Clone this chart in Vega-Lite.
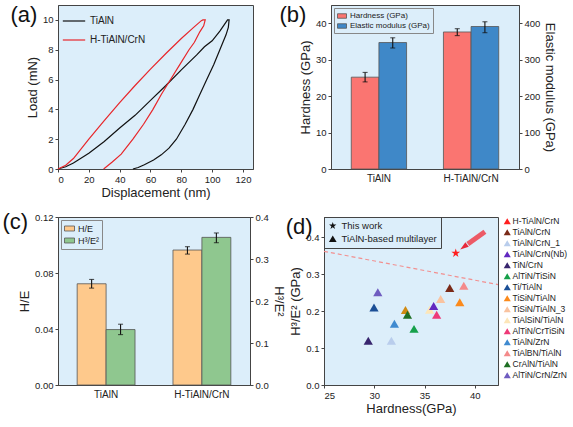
{
  "$schema": "https://vega.github.io/schema/vega-lite/v6.json",
  "padding": {"left": 2, "top": 3, "right": 0, "bottom": 0},
  "background": "white",
  "resolve": {"scale": {"color": "independent", "shape": "independent", "xOffset": "independent"}},
  "spacing": 10,
  "vconcat": [
    {
      "spacing": 24,
      "resolve": {"scale": {"color": "independent", "shape": "independent", "xOffset": "independent"}},
      "hconcat": [
        {
          "width": 195,
          "height": 164,
          "title": {"text": "(a)", "dx": -16, "offset": -22},
          "data": {"values": [
            {"s": "TiAlN", "i": 1, "d": 0, "L": 0},
            {"s": "TiAlN", "i": 2, "d": 5, "L": 0.15},
            {"s": "TiAlN", "i": 3, "d": 10, "L": 0.4},
            {"s": "TiAlN", "i": 4, "d": 20, "L": 1.05},
            {"s": "TiAlN", "i": 5, "d": 30, "L": 1.85},
            {"s": "TiAlN", "i": 6, "d": 40, "L": 2.75},
            {"s": "TiAlN", "i": 7, "d": 50, "L": 3.6},
            {"s": "TiAlN", "i": 8, "d": 60, "L": 4.6},
            {"s": "TiAlN", "i": 9, "d": 70, "L": 5.6},
            {"s": "TiAlN", "i": 10, "d": 80, "L": 6.65},
            {"s": "TiAlN", "i": 11, "d": 90, "L": 7.65},
            {"s": "TiAlN", "i": 12, "d": 95, "L": 8.2},
            {"s": "TiAlN", "i": 13, "d": 100, "L": 8.6},
            {"s": "TiAlN", "i": 14, "d": 105, "L": 9.25},
            {"s": "TiAlN", "i": 15, "d": 109, "L": 9.85},
            {"s": "TiAlN", "i": 16, "d": 110, "L": 10},
            {"s": "TiAlN", "i": 17, "d": 111, "L": 10},
            {"s": "TiAlN", "i": 18, "d": 110.5, "L": 9.5},
            {"s": "TiAlN", "i": 19, "d": 109, "L": 9},
            {"s": "TiAlN", "i": 20, "d": 107, "L": 8.5},
            {"s": "TiAlN", "i": 21, "d": 105, "L": 8},
            {"s": "TiAlN", "i": 22, "d": 101, "L": 7},
            {"s": "TiAlN", "i": 23, "d": 96.5, "L": 6},
            {"s": "TiAlN", "i": 24, "d": 92, "L": 5},
            {"s": "TiAlN", "i": 25, "d": 87.6, "L": 4},
            {"s": "TiAlN", "i": 26, "d": 82.5, "L": 3},
            {"s": "TiAlN", "i": 27, "d": 76.8, "L": 2},
            {"s": "TiAlN", "i": 28, "d": 72, "L": 1.4},
            {"s": "TiAlN", "i": 29, "d": 67, "L": 0.95},
            {"s": "TiAlN", "i": 30, "d": 62, "L": 0.6},
            {"s": "TiAlN", "i": 31, "d": 56, "L": 0.28},
            {"s": "TiAlN", "i": 32, "d": 52, "L": 0.1},
            {"s": "TiAlN", "i": 33, "d": 48.6, "L": 0},
            {"s": "H-TiAlN/CrN", "i": 1, "d": 0, "L": 0},
            {"s": "H-TiAlN/CrN", "i": 2, "d": 5, "L": 0.25},
            {"s": "H-TiAlN/CrN", "i": 3, "d": 10, "L": 0.7},
            {"s": "H-TiAlN/CrN", "i": 4, "d": 20, "L": 2.0},
            {"s": "H-TiAlN/CrN", "i": 5, "d": 30, "L": 3.25},
            {"s": "H-TiAlN/CrN", "i": 6, "d": 40, "L": 4.45},
            {"s": "H-TiAlN/CrN", "i": 7, "d": 50, "L": 5.6},
            {"s": "H-TiAlN/CrN", "i": 8, "d": 60, "L": 6.7},
            {"s": "H-TiAlN/CrN", "i": 9, "d": 70, "L": 7.75},
            {"s": "H-TiAlN/CrN", "i": 10, "d": 80, "L": 8.75},
            {"s": "H-TiAlN/CrN", "i": 11, "d": 88, "L": 9.5},
            {"s": "H-TiAlN/CrN", "i": 12, "d": 93, "L": 9.95},
            {"s": "H-TiAlN/CrN", "i": 13, "d": 94, "L": 10},
            {"s": "H-TiAlN/CrN", "i": 14, "d": 95.5, "L": 10},
            {"s": "H-TiAlN/CrN", "i": 15, "d": 94.5, "L": 9.6},
            {"s": "H-TiAlN/CrN", "i": 16, "d": 92, "L": 9.2},
            {"s": "H-TiAlN/CrN", "i": 17, "d": 88.5, "L": 8.5},
            {"s": "H-TiAlN/CrN", "i": 18, "d": 85, "L": 8},
            {"s": "H-TiAlN/CrN", "i": 19, "d": 79, "L": 7},
            {"s": "H-TiAlN/CrN", "i": 20, "d": 73, "L": 6},
            {"s": "H-TiAlN/CrN", "i": 21, "d": 67, "L": 5},
            {"s": "H-TiAlN/CrN", "i": 22, "d": 61.6, "L": 4},
            {"s": "H-TiAlN/CrN", "i": 23, "d": 55.5, "L": 3},
            {"s": "H-TiAlN/CrN", "i": 24, "d": 48.6, "L": 2},
            {"s": "H-TiAlN/CrN", "i": 25, "d": 41, "L": 1},
            {"s": "H-TiAlN/CrN", "i": 26, "d": 35, "L": 0.45},
            {"s": "H-TiAlN/CrN", "i": 27, "d": 29.6, "L": 0}
          ]},
          "mark": {"type": "line", "strokeWidth": 1.2},
          "encoding": {
            "x": {"field": "d", "type": "quantitative", "scale": {"domain": [0, 126.5], "nice": false}, "axis": {"title": "Displacement (nm)", "values": [0, 20, 40, 60, 80, 100, 120]}},
            "y": {"field": "L", "type": "quantitative", "scale": {"domain": [0, 11], "nice": false}, "axis": {"title": "Load (mN)", "values": [0, 2, 4, 6, 8, 10]}},
            "order": {"field": "i", "type": "quantitative"},
            "color": {"field": "s", "type": "nominal", "scale": {"domain": ["TiAlN", "H-TiAlN/CrN"], "range": ["#111111", "#e8262a"]},
              "legend": {"title": null, "orient": "top-left", "offset": 4, "symbolType": "stroke", "symbolSize": 500, "symbolStrokeWidth": 1.2, "labelFontSize": 10, "rowPadding": 2, "labelOffset": 4}}
          }
        },
        {
          "width": 188,
          "height": 164,
          "title": {"text": "(b)", "dx": -20, "offset": -22},
          "data": {"values": [
            {"sample": "TiAlN", "series": "Hardness (GPa)", "v": 25.2, "lo": 23.9, "hi": 26.5},
            {"sample": "H-TiAlN/CrN", "series": "Hardness (GPa)", "v": 37.6, "lo": 36.6, "hi": 38.5},
            {"sample": "TiAlN", "series": "Elastic modulus (GPa)", "v": 347, "lo": 332, "hi": 360},
            {"sample": "H-TiAlN/CrN", "series": "Elastic modulus (GPa)", "v": 391, "lo": 374, "hi": 404}
          ]},
          "encoding": {
            "x": {"field": "sample", "type": "nominal", "sort": ["TiAlN", "H-TiAlN/CrN"], "scale": {"paddingInner": 0.4, "paddingOuter": 0.22}, "axis": {"title": null, "labelAngle": 0, "ticks": false, "labelFontSize": 10, "labelPadding": 4}},
            "xOffset": {"field": "series", "type": "nominal", "sort": ["Hardness (GPa)", "Elastic modulus (GPa)"]},
            "color": {"field": "series", "type": "nominal", "scale": {"domain": ["Hardness (GPa)", "Elastic modulus (GPa)"], "range": ["#fa7571", "#3f88c8"]},
              "legend": {"title": null, "orient": "top-left", "offset": 3, "padding": 3, "strokeColor": "#888", "symbolType": "M-1,-0.5H1V0.5H-1Z", "symbolSize": 81, "symbolStrokeColor": "#555", "symbolStrokeWidth": 0.8, "labelFontSize": 8, "rowPadding": 1, "labelOffset": 3}}
          },
          "layer": [
            {
              "transform": [{"filter": "datum.series === 'Hardness (GPa)'"}],
              "layer": [
                {"mark": {"type": "bar", "stroke": "#555", "strokeWidth": 0.8},
                 "encoding": {"y": {"field": "v", "type": "quantitative", "title": "Hardness (GPa)", "scale": {"domain": [0, 45], "nice": false}, "axis": {"values": [0, 10, 20, 30, 40]}}}},
                {"mark": {"type": "rule", "strokeWidth": 1.1},
                 "encoding": {"y": {"field": "lo", "type": "quantitative", "title": "Hardness (GPa)"}, "y2": {"field": "hi"}, "color": {"value": "#111"}}},
                {"mark": {"type": "tick", "size": 5, "thickness": 1.1},
                 "encoding": {"y": {"field": "lo", "type": "quantitative", "title": "Hardness (GPa)"}, "color": {"value": "#111"}}},
                {"mark": {"type": "tick", "size": 5, "thickness": 1.1},
                 "encoding": {"y": {"field": "hi", "type": "quantitative", "title": "Hardness (GPa)"}, "color": {"value": "#111"}}}
              ]
            },
            {
              "transform": [{"filter": "datum.series === 'Elastic modulus (GPa)'"}],
              "layer": [
                {"mark": {"type": "bar", "stroke": "#555", "strokeWidth": 0.8},
                 "encoding": {"y": {"field": "v", "type": "quantitative", "title": "Elastic modulus (GPa)", "scale": {"domain": [0, 450], "nice": false}, "axis": {"orient": "right", "values": [0, 100, 200, 300, 400]}}}},
                {"mark": {"type": "rule", "strokeWidth": 1.1},
                 "encoding": {"y": {"field": "lo", "type": "quantitative", "title": "Elastic modulus (GPa)"}, "y2": {"field": "hi"}, "color": {"value": "#111"}}},
                {"mark": {"type": "tick", "size": 5, "thickness": 1.1},
                 "encoding": {"y": {"field": "lo", "type": "quantitative", "title": "Elastic modulus (GPa)"}, "color": {"value": "#111"}}},
                {"mark": {"type": "tick", "size": 5, "thickness": 1.1},
                 "encoding": {"y": {"field": "hi", "type": "quantitative", "title": "Elastic modulus (GPa)"}, "color": {"value": "#111"}}}
              ]
            }
          ],
          "resolve": {"scale": {"y": "independent"}}
        }
      ]
    },
    {
      "spacing": 0,
      "resolve": {"scale": {"color": "independent", "shape": "independent", "xOffset": "independent"}},
      "hconcat": [
        {
          "width": 192,
          "height": 168,
          "title": {"text": "(c)", "dx": -16, "offset": -22},
          "data": {"values": [
            {"sample": "TiAlN", "series": "H/E", "v": 0.0723, "lo": 0.0692, "hi": 0.0754},
            {"sample": "H-TiAlN/CrN", "series": "H/E", "v": 0.0964, "lo": 0.0935, "hi": 0.0988},
            {"sample": "TiAlN", "series": "H³/E²", "v": 0.132, "lo": 0.12, "hi": 0.1447},
            {"sample": "H-TiAlN/CrN", "series": "H³/E²", "v": 0.3515, "lo": 0.3388, "hi": 0.362}
          ]},
          "encoding": {
            "x": {"field": "sample", "type": "nominal", "sort": ["TiAlN", "H-TiAlN/CrN"], "scale": {"paddingInner": 0.396, "paddingOuter": 0.2}, "axis": {"title": null, "labelAngle": 0, "ticks": false, "labelFontSize": 10, "labelPadding": 4}},
            "xOffset": {"field": "series", "type": "nominal", "sort": ["H/E", "H³/E²"]},
            "color": {"field": "series", "type": "nominal", "scale": {"domain": ["H/E", "H³/E²"], "range": ["#fec98c", "#8fc78f"]},
              "legend": {"title": null, "orient": "top-left", "offset": 3, "padding": 3, "strokeColor": "#888", "symbolType": "M-1,-0.5H1V0.5H-1Z", "symbolSize": 100, "symbolStrokeColor": "#555", "symbolStrokeWidth": 0.8, "labelFontSize": 9, "rowPadding": 1, "labelOffset": 3}}
          },
          "layer": [
            {
              "transform": [{"filter": "datum.series === 'H/E'"}],
              "layer": [
                {"mark": {"type": "bar", "stroke": "#555", "strokeWidth": 0.8},
                 "encoding": {"y": {"field": "v", "type": "quantitative", "title": "H/E", "scale": {"domain": [0, 0.12], "nice": false}, "axis": {"values": [0, 0.02, 0.04, 0.06, 0.08, 0.1, 0.12], "format": ".2f"}}}},
                {"mark": {"type": "rule", "strokeWidth": 1.1},
                 "encoding": {"y": {"field": "lo", "type": "quantitative", "title": "H/E"}, "y2": {"field": "hi"}, "color": {"value": "#111"}}},
                {"mark": {"type": "tick", "size": 5, "thickness": 1.1},
                 "encoding": {"y": {"field": "lo", "type": "quantitative", "title": "H/E"}, "color": {"value": "#111"}}},
                {"mark": {"type": "tick", "size": 5, "thickness": 1.1},
                 "encoding": {"y": {"field": "hi", "type": "quantitative", "title": "H/E"}, "color": {"value": "#111"}}}
              ]
            },
            {
              "transform": [{"filter": "datum.series === 'H³/E²'"}],
              "layer": [
                {"mark": {"type": "bar", "stroke": "#555", "strokeWidth": 0.8},
                 "encoding": {"y": {"field": "v", "type": "quantitative", "title": "H³/E²", "scale": {"domain": [0, 0.4], "nice": false}, "axis": {"orient": "right", "values": [0, 0.1, 0.2, 0.3, 0.4], "format": ".1f"}}}},
                {"mark": {"type": "rule", "strokeWidth": 1.1},
                 "encoding": {"y": {"field": "lo", "type": "quantitative", "title": "H³/E²"}, "y2": {"field": "hi"}, "color": {"value": "#111"}}},
                {"mark": {"type": "tick", "size": 5, "thickness": 1.1},
                 "encoding": {"y": {"field": "lo", "type": "quantitative", "title": "H³/E²"}, "color": {"value": "#111"}}},
                {"mark": {"type": "tick", "size": 5, "thickness": 1.1},
                 "encoding": {"y": {"field": "hi", "type": "quantitative", "title": "H³/E²"}, "color": {"value": "#111"}}}
              ]
            }
          ],
          "resolve": {"scale": {"y": "independent"}}
        },
        {
          "width": 174,
          "height": 168,
          "title": {"text": "(d)", "dx": -4, "offset": -22},
          "data": {"values": [
            {"kind": "ref", "i": 1, "h": 25, "r": 0.362},
            {"kind": "ref", "i": 2, "h": 42.3, "r": 0.272},
            {"kind": "extra", "h": 33.1, "r": 0.203},
            {"kind": "pt", "m": "CrAlN/TiAlN", "h": 33.3, "r": 0.19, "g": "TiAlN-based multilayer"},
            {"kind": "pt", "m": "TiAlN/CrN", "h": 37.5, "r": 0.263, "g": "TiAlN-based multilayer"},
            {"kind": "pt", "m": "TiAlN/CrN_1", "h": 31.7, "r": 0.12, "g": "TiAlN-based multilayer"},
            {"kind": "pt", "m": "TiN/CrN", "h": 29.4, "r": 0.12, "g": "TiAlN-based multilayer"},
            {"kind": "pt", "m": "AlTiN/TiSiN", "h": 33.95, "r": 0.152, "g": "TiAlN-based multilayer"},
            {"kind": "pt", "m": "Ti/TiAlN", "h": 29.97, "r": 0.21, "g": "TiAlN-based multilayer"},
            {"kind": "pt", "m": "TiSiN/TiAlN", "h": 38.5, "r": 0.224, "g": "TiAlN-based multilayer"},
            {"kind": "pt", "m": "TiSiN/TiAlN_3", "h": 36.6, "r": 0.233, "g": "TiAlN-based multilayer"},
            {"kind": "pt", "m": "TiAlSiN/TiAlN", "h": 35.5, "r": 0.204, "g": "TiAlN-based multilayer"},
            {"kind": "pt", "m": "TiAlN/CrN(Nb)", "h": 35.9, "r": 0.214, "g": "TiAlN-based multilayer"},
            {"kind": "pt", "m": "AlTiN/CrTiSiN", "h": 36.2, "r": 0.19, "g": "TiAlN-based multilayer"},
            {"kind": "pt", "m": "TiAlN/ZrN", "h": 32.0, "r": 0.166, "g": "TiAlN-based multilayer"},
            {"kind": "pt", "m": "TiAlBN/TiAlN", "h": 38.9, "r": 0.269, "g": "TiAlN-based multilayer"},
            {"kind": "pt", "m": "AlTiN/CrN/ZrN", "h": 30.35, "r": 0.251, "g": "TiAlN-based multilayer"},
            {"kind": "pt", "m": "H-TiAlN/CrN", "h": 38.1, "r": 0.357, "g": "This work"},
            {"kind": "arrow", "i": 1, "h": 41.0, "r": 0.415},
            {"kind": "arrow", "i": 2, "h": 39.3, "r": 0.382},
            {"kind": "head", "h": 39.0, "r": 0.376}
          ]},
          "encoding": {
            "x": {"field": "h", "type": "quantitative", "title": "Hardness(GPa)", "scale": {"domain": [25, 42.3], "nice": false}, "axis": {"values": [25, 30, 35, 40]}},
            "y": {"field": "r", "type": "quantitative", "title": "H³/E² (GPa)", "scale": {"domain": [0, 0.455], "nice": false}, "axis": {"values": [0, 0.1, 0.2, 0.3, 0.4], "format": ".1f"}}
          },
          "layer": [
            {
              "transform": [{"filter": "datum.kind === 'ref'"}],
              "mark": {"type": "line", "color": "#f29090", "strokeDash": [4, 3], "strokeWidth": 1.2},
              "encoding": {"order": {"field": "i", "type": "quantitative"}}
            },
            {
              "transform": [{"filter": "datum.kind === 'extra'"}],
              "mark": {"type": "point", "shape": "triangle-up", "filled": true, "size": 85, "strokeWidth": 0, "color": "#d08a12", "opacity": 1},
              "encoding": {}
            },
            {
              "transform": [{"filter": "datum.kind === 'pt'"}],
              "mark": {"type": "point", "filled": true, "size": 85, "strokeWidth": 0, "opacity": 1},
              "encoding": {
                "color": {"field": "m", "type": "nominal",
                  "scale": {
                    "domain": ["H-TiAlN/CrN", "TiAlN/CrN", "TiAlN/CrN_1", "TiAlN/CrN(Nb)", "TiN/CrN", "AlTiN/TiSiN", "Ti/TiAlN", "TiSiN/TiAlN", "TiSiN/TiAlN_3", "TiAlSiN/TiAlN", "AlTiN/CrTiSiN", "TiAlN/ZrN", "TiAlBN/TiAlN", "CrAlN/TiAlN", "AlTiN/CrN/ZrN"],
                    "range": ["#ff1f1f", "#7a2a18", "#b9cdec", "#6128c0", "#38266e", "#16a04a", "#1b4f96", "#fb8a1c", "#f9c3a0", "#fde6b8", "#ee3a78", "#3f8ad0", "#f48a8a", "#1f6f24", "#6f5cc0"]
                  },
                  "legend": {"title": null, "orient": "right", "offset": 5, "labelFontSize": 8.5, "rowPadding": 2, "labelOffset": 1, "symbolSize": 50, "symbolType": "triangle-up", "symbolStrokeWidth": 0,
                    "encode": {
                      "symbols": {"update": {"shape": {"signal": "datum.value === 'H-TiAlN/CrN' ? 'M0,-1L0.225,-0.309L0.951,-0.309L0.363,0.118L0.588,0.809L0,0.382L-0.588,0.809L-0.363,0.118L-0.951,-0.309L-0.225,-0.309Z' : 'triangle-up'"}}},
                      "labels": {"update": {"fill": {"signal": "datum.value === 'H-TiAlN/CrN' ? '#ff1f1f' : '#222'"}, "fontSize": {"signal": "datum.value === 'H-TiAlN/CrN' ? 10.5 : 8.5"}}}
                    }
                  }
                },
                "shape": {"field": "g", "type": "nominal",
                  "scale": {"domain": ["This work", "TiAlN-based multilayer"], "range": ["M0,-1L0.225,-0.309L0.951,-0.309L0.363,0.118L0.588,0.809L0,0.382L-0.588,0.809L-0.363,0.118L-0.951,-0.309L-0.225,-0.309Z", "triangle-up"]},
                  "legend": {"title": null, "orient": "top-left", "offset": 0, "padding": 4, "strokeColor": "#444", "labelFontSize": 9.5, "rowPadding": 2, "labelOffset": 4, "symbolSize": 60, "symbolStrokeWidth": 0, "symbolFillColor": "#111",
                    "encode": {
                      "symbols": {"update": {"fill": {"signal": "datum.value === 'This work' ? '#ff1f1f' : '#111'"}}},
                      "labels": {"update": {"fill": {"signal": "datum.value === 'This work' ? '#ff1f1f' : '#111'"}}}
                    }
                  }
                }
              }
            },
            {
              "transform": [{"filter": "datum.kind === 'arrow'"}],
              "mark": {"type": "line", "color": "#ec5a66", "strokeWidth": 5, "strokeCap": "butt"},
              "encoding": {"order": {"field": "i", "type": "quantitative"}}
            },
            {
              "transform": [{"filter": "datum.kind === 'head'"}],
              "mark": {"type": "point", "shape": "M-0.8,0.6L0.7,0.1L0.1,-0.7Z", "filled": true, "size": 130, "color": "#e8283a", "strokeWidth": 0, "opacity": 1},
              "encoding": {}
            }
          ]
        }
      ]
    }
  ],
  "config": {
    "font": "Liberation Sans",
    "view": {"stroke": "#444", "fill": "#dceefa"},
    "axis": {"labelFontSize": 9.5, "titleFontSize": 13, "titleFontWeight": "normal", "labelColor": "#222", "titleColor": "#222", "domainColor": "#444", "tickColor": "#444", "grid": false, "tickSize": 3, "labelPadding": 2, "titlePadding": 3},
    "title": {"fontSize": 22, "fontWeight": "normal", "anchor": "start", "frame": "bounds", "color": "#111"},
    "legend": {"labelColor": "#222"}
  }
}
